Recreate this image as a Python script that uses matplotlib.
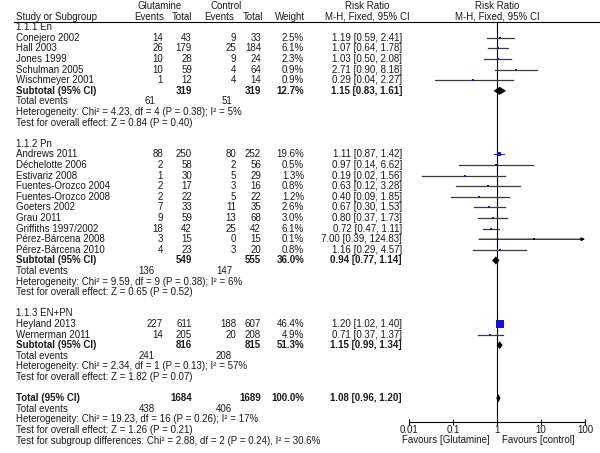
import matplotlib
matplotlib.use("Agg")
import matplotlib.pyplot as plt

plt.rcParams["font.family"] = ["Liberation Sans", "DejaVu Sans"]

# --- data ---------------------------------------------------------------
groups = ["1.1.1 En", "1.1.2 Pn", "1.1.3 EN+PN"]

studies = [
    ["Conejero 2002", "Hall 2003", "Jones 1999", "Schulman 2005", "Wischmeyer 2001"],
    ["Andrews 2011", "Déchelotte 2006", "Estivariz 2008", "Fuentes-Orozco 2004",
     "Fuentes-Orozco 2008", "Goeters 2002", "Grau 2011", "Griffiths 1997/2002",
     "Pérez-Bárcena 2008", "Pérez-Bárcena 2010"],
    ["Heyland 2013", "Wernerman 2011"],
]
glut_events = [[14, 26, 10, 10, 1], [88, 2, 1, 2, 2, 7, 9, 18, 3, 4], [227, 14]]
glut_total = [[43, 179, 28, 59, 12], [250, 58, 30, 17, 22, 33, 59, 42, 15, 23], [611, 205]]
ctrl_events = [[9, 25, 9, 4, 4], [80, 2, 5, 3, 5, 11, 13, 25, 0, 3], [188, 20]]
ctrl_total = [[33, 184, 24, 64, 14], [252, 56, 29, 16, 22, 35, 68, 42, 15, 20], [607, 208]]
weight = [[2.5, 6.1, 2.3, 0.9, 0.9], [19.6, 0.5, 1.3, 0.8, 1.2, 2.6, 3.0, 6.1, 0.1, 0.8], [46.4, 4.9]]
rr = [[1.19, 1.07, 1.03, 2.71, 0.29], [1.11, 0.97, 0.19, 0.63, 0.40, 0.67, 0.80, 0.72, 7.00, 1.16], [1.20, 0.71]]
rr_lo = [[0.59, 0.64, 0.50, 0.90, 0.04], [0.87, 0.14, 0.02, 0.12, 0.09, 0.30, 0.37, 0.47, 0.39, 0.29], [1.02, 0.37]]
rr_hi = [[2.41, 1.78, 2.08, 8.18, 2.27], [1.42, 6.62, 1.56, 3.28, 1.85, 1.53, 1.73, 1.11, 124.83, 4.57], [1.40, 1.37]]

sub_glut_total = [319, 549, 816]
sub_ctrl_total = [319, 555, 815]
sub_weight = [12.7, 36.0, 51.3]
sub_rr = [1.15, 0.94, 1.15]
sub_lo = [0.83, 0.77, 0.99]
sub_hi = [1.61, 1.14, 1.34]
sub_glut_ev = [61, 136, 241]
sub_ctrl_ev = [51, 147, 208]
sub_het = ["Heterogeneity: Chi² = 4.23, df = 4 (P = 0.38); I² = 5%",
           "Heterogeneity: Chi² = 9.59, df = 9 (P = 0.38); I² = 6%",
           "Heterogeneity: Chi² = 2.34, df = 1 (P = 0.13); I² = 57%"]
sub_test = ["Test for overall effect: Z = 0.84 (P = 0.40)",
            "Test for overall effect: Z = 0.65 (P = 0.52)",
            "Test for overall effect: Z = 1.82 (P = 0.07)"]

tot_glut_total, tot_ctrl_total, tot_weight = 1684, 1689, 100.0
tot_rr, tot_lo, tot_hi = 1.08, 0.96, 1.20
tot_glut_ev, tot_ctrl_ev = 438, 406
tot_het = "Heterogeneity: Chi² = 19.23, df = 16 (P = 0.26); I² = 17%"
tot_test = "Test for overall effect: Z = 1.26 (P = 0.21)"
tot_sub = "Test for subgroup differences: Chi² = 2.88, df = 2 (P = 0.24), I² = 30.6%"

xticks = [0.01, 0.1, 1, 10, 100]
xtick_labels = ["0.01", "0.1", "1", "10", "100"]

# --- layout (pixels) ----------------------------------------------------
W, H = 600, 453
fs = 7.0
row_h = 10.6
y0 = 6.0
x_name = 16
x_gev, x_gtot, x_cev, x_ctot, x_w, x_rr = 163, 192, 236, 261, 304, 402
x_gev_tot, x_cev_tot = 155, 232
axis_y = 422
blue = "#1414c8"
line_col = "#3a3a3a"
text_col = "#1a1a1a"

fig = plt.figure(figsize=(W / 100, H / 100), dpi=100)
ax = fig.add_axes([0, 0, 1, 1])
ax.set_xlim(0, W)
ax.set_ylim(H, 0)
ax.axis("off")

fax = fig.add_axes([409 / W, (H - axis_y) / H, 176 / W, axis_y / H])
fax.set_xscale("log")
fax.set_xlim(0.01, 100)
fax.set_ylim(axis_y, 0)
fax.patch.set_alpha(0)
for s in ["top", "left", "right"]:
    fax.spines[s].set_visible(False)
fax.spines["bottom"].set_linewidth(0.8)
fax.set_yticks([])
fax.set_xticks(xticks)
fax.set_xticklabels(xtick_labels)
fax.minorticks_off()
fax.tick_params(axis="x", direction="inout", length=5, width=0.8, pad=0,
                labelsize=fs, labelcolor=text_col)


def ypos(row):
    return y0 + row * row_h


def txt(x, row, s, ha="left", bold=False):
    ax.text(x, ypos(row), s, ha=ha, va="center", fontsize=fs,
            fontweight="bold" if bold else "normal", color=text_col)


def ci_text(r, lo, hi):
    return f"{r:.2f} [{lo:.2f}, {hi:.2f}]"


def diamond(row, r, lo, hi):
    y = ypos(row)
    fax.fill([lo, r, hi, r], [y, y - 4, y, y + 4], color="black", lw=0)


# header
txt(160, 0, "Glutamine", ha="center")
txt(226, 0, "Control", ha="center")
txt(367, 0, "Risk Ratio", ha="center")
txt(497, 0, "Risk Ratio", ha="center")
txt(x_name, 1, "Study or Subgroup")
txt(149, 1, "Events", ha="center")
txt(182, 1, "Total", ha="center")
txt(219, 1, "Events", ha="center")
txt(253, 1, "Total", ha="center")
txt(290, 1, "Weight", ha="center")
txt(367, 1, "M-H, Fixed, 95% CI", ha="center")
txt(497, 1, "M-H, Fixed, 95% CI", ha="center")
ax.plot([14, W], [22, 22], color="black", lw=0.8)

fax.plot([1, 1], [22, axis_y], color="black", lw=0.8)

row = 2
for g in range(len(groups)):
    txt(x_name, row, groups[g])
    row += 1
    for i in range(len(studies[g])):
        txt(x_name, row, studies[g][i])
        txt(x_gev, row, str(glut_events[g][i]), ha="right")
        txt(x_gtot, row, str(glut_total[g][i]), ha="right")
        txt(x_cev, row, str(ctrl_events[g][i]), ha="right")
        txt(x_ctot, row, str(ctrl_total[g][i]), ha="right")
        txt(x_w, row, f"{weight[g][i]:.1f}%", ha="right")
        txt(x_rr, row, ci_text(rr[g][i], rr_lo[g][i], rr_hi[g][i]), ha="right")

        y = ypos(row)
        hi = rr_hi[g][i]
        if hi > 100:
            fax.annotate("", xy=(100, y), xytext=(rr_lo[g][i], y),
                         arrowprops=dict(arrowstyle="-|>", color="black", lw=0.8,
                                         mutation_scale=5, shrinkA=0, shrinkB=0),
                         annotation_clip=False)
        else:
            fax.plot([rr_lo[g][i], hi], [y, y], color=line_col, lw=0.9)
        side = max(2.0, 1.05 * weight[g][i] ** 0.5) * 0.72
        fax.plot(rr[g][i], y, "s", ms=side, color=blue, mew=0)
        row += 1

    txt(x_name, row, "Subtotal (95% CI)", bold=True)
    txt(x_gtot, row, str(sub_glut_total[g]), ha="right", bold=True)
    txt(x_ctot, row, str(sub_ctrl_total[g]), ha="right", bold=True)
    txt(x_w, row, f"{sub_weight[g]:.1f}%", ha="right", bold=True)
    txt(x_rr, row, ci_text(sub_rr[g], sub_lo[g], sub_hi[g]), ha="right", bold=True)
    diamond(row, sub_rr[g], sub_lo[g], sub_hi[g])
    row += 1
    txt(x_name, row, "Total events")
    txt(x_gev_tot, row, str(sub_glut_ev[g]), ha="right")
    txt(x_cev_tot, row, str(sub_ctrl_ev[g]), ha="right")
    row += 1
    txt(x_name, row, sub_het[g])
    row += 1
    txt(x_name, row, sub_test[g])
    row += 2

# overall total
txt(x_name, row, "Total (95% CI)", bold=True)
txt(x_gtot, row, str(tot_glut_total), ha="right", bold=True)
txt(x_ctot, row, str(tot_ctrl_total), ha="right", bold=True)
txt(x_w, row, f"{tot_weight:.1f}%", ha="right", bold=True)
txt(x_rr, row, ci_text(tot_rr, tot_lo, tot_hi), ha="right", bold=True)
diamond(row, tot_rr, tot_lo, tot_hi)
row += 1
txt(x_name, row, "Total events")
txt(x_gev_tot, row, str(tot_glut_ev), ha="right")
txt(x_cev_tot, row, str(tot_ctrl_ev), ha="right")
row += 1
txt(x_name, row, tot_het)
row += 1
txt(x_name, row, tot_test)
row += 1
txt(x_name, row, tot_sub)

ax.text(490, 440, "Favours [Glutamine]", ha="right", va="center", fontsize=fs, color=text_col)
ax.text(502, 440, "Favours [control]", ha="left", va="center", fontsize=fs, color=text_col)

fig.savefig("out.png", dpi=100)
